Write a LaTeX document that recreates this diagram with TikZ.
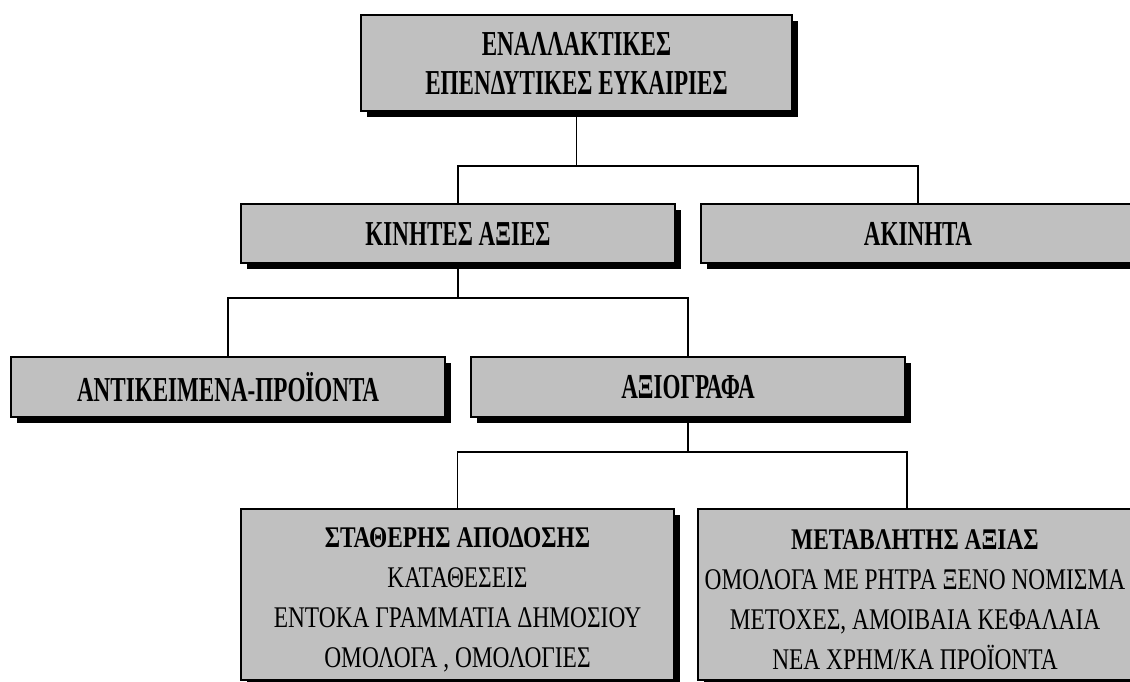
\documentclass[tikz,border=0pt]{standalone}
\usepackage{fontspec}
\setmainfont{Liberation Serif}
\newfontfamily\headfont[FakeStretch=0.66]{Liberation Serif}
\newfontfamily\bodyfont[FakeStretch=0.78]{Liberation Serif}
\usetikzlibrary{shadows}
\definecolor{boxgray}{RGB}{192,192,192}
\begin{document}
\begin{tikzpicture}[x=1pt,y=-1pt,
  box/.style={draw=black, line width=2pt, fill=boxgray, rectangle, inner sep=0pt, align=center,
    drop shadow={shadow xshift=6pt, shadow yshift=-6pt, fill=black, opacity=1}},
  head/.style={font=\headfont\bfseries\fontsize{35}{39}\selectfont},
  body/.style={font=\bodyfont\fontsize{30}{40}\selectfont},
  conn/.style={line width=1.8pt}]
\useasboundingbox (0,0) rectangle (1130,681);
\clip (0,0) rectangle (1130,681);
\node[box, head, minimum width=431, minimum height=96] (top) at (576.5,63) {ΕΝΑΛΛΑΚΤΙΚΕΣ\\ΕΠΕΝΔΥΤΙΚΕΣ ΕΥΚΑΙΡΙΕΣ};
\node[box, head, minimum width=434, minimum height=59] (kin) at (458,233.5) {ΚΙΝΗΤΕΣ ΑΞΙΕΣ};
\node[box, head, minimum width=434, minimum height=59] (akin) at (918,233.5) {ΑΚΙΝΗΤΑ};
\node[box, head, minimum width=434, minimum height=60] (ant) at (228,387) {ΑΝΤΙΚΕΙΜΕΝΑ-ΠΡΟΪΟΝΤΑ};
\node[box, head, minimum width=434, minimum height=60] (axi) at (688,387) {ΑΞΙΟΓΡΑΦΑ};
\node[box, body, minimum width=433, minimum height=171] (stat) at (457.5,594.5) {\rule{0pt}{30pt}{\bfseries ΣΤΑΘΕΡΗΣ ΑΠΟΔΟΣΗΣ}\\ΚΑΤΑΘΕΣΕΙΣ\\ΕΝΤΟΚΑ ΓΡΑΜΜΑΤΙΑ ΔΗΜΟΣΙΟΥ\\ΟΜΟΛΟΓΑ , ΟΜΟΛΟΓΙΕΣ};
\node[box, body, minimum width=434, minimum height=171] (met) at (915,594.5) {\rule{0pt}{30pt}{\bfseries ΜΕΤΑΒΛΗΤΗΣ ΑΞΙΑΣ}\\ΟΜΟΛΟΓΑ ΜΕ ΡΗΤΡΑ ΞΕΝΟ ΝΟΜΙΣΜΑ\\ΜΕΤΟΧΕΣ, ΑΜΟΙΒΑΙΑ ΚΕΦΑΛΑΙΑ\\ΝΕΑ ΧΡΗΜ/ΚΑ ΠΡΟΪΟΝΤΑ};
% connectors
\coordinate (y1) at (0,166);
\coordinate (y2) at (0,298);
\coordinate (y3) at (0,452);
\coordinate (mx) at (907,0);
\draw[conn] (top.south) -- (top.south |- y1);
\draw[conn] (kin.north) -- (kin.north |- y1) -- (akin.north |- y1) -- (akin.north);
\draw[conn] (kin.south) -- (kin.south |- y2);
\draw[conn] (ant.north) -- (ant.north |- y2) -- (axi.north |- y2) -- (axi.north);
\draw[conn] (axi.south) -- (axi.south |- y3);
\draw[conn] (stat.north) -- (stat.north |- y3) -- (mx |- y3) -- (mx |- met.north);
\end{tikzpicture}
\end{document}
